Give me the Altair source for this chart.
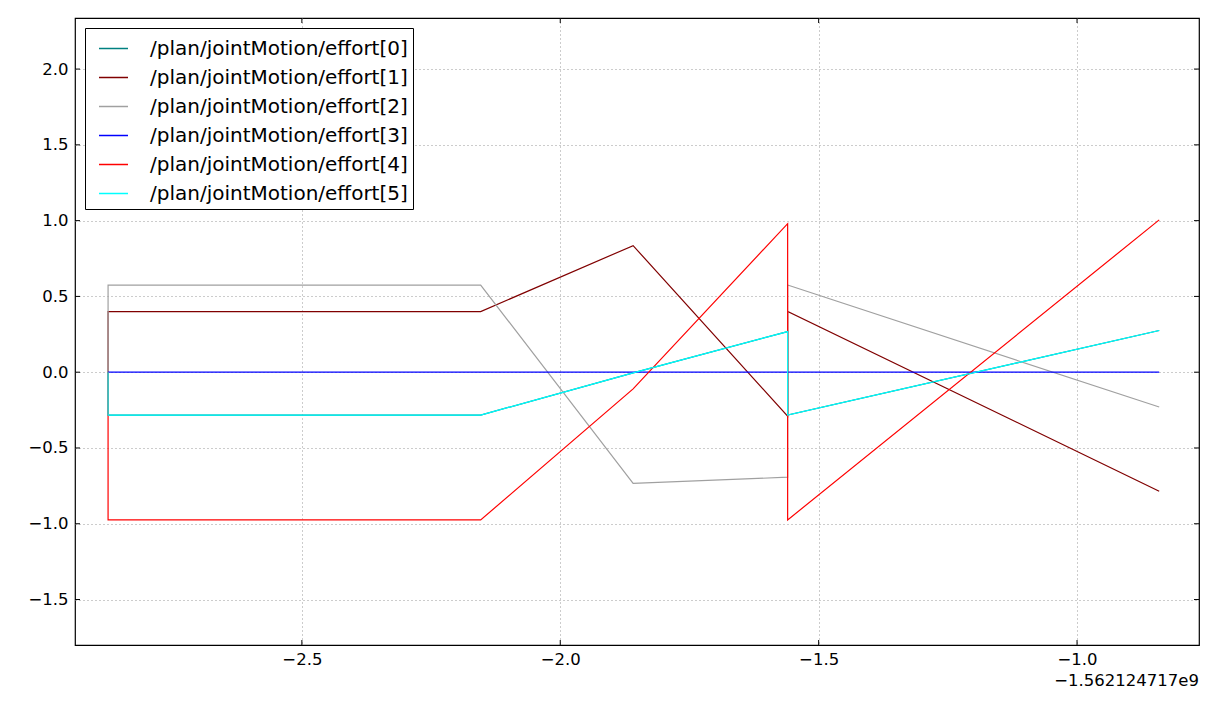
import altair as alt
import pandas as pd

# time offsets (relative to -1.562124717e9)
times = [-2.875, -2.875, -2.154, -1.859, -1.560, -1.560, -0.841]
series_names = [f"/plan/jointMotion/effort[{i}]" for i in range(6)]
effort0 = [0.0, -0.283, -0.283, -0.005, 0.268, -0.283, 0.275]
effort1 = [0.0, 0.400, 0.400, 0.835, -0.290, 0.400, -0.785]
effort2 = [0.0, 0.575, 0.575, -0.733, -0.693, 0.575, -0.230]
effort3 = [0.0, 0.0, 0.0, 0.0, 0.0, 0.0, 0.0]
effort4 = [0.0, -0.975, -0.975, -0.110, 0.980, -0.975, 1.005]
effort5 = [0.0, -0.283, -0.283, -0.005, 0.268, -0.283, 0.275]
colors = ["#008080", "#800000", "#a0a0a0", "#0000ff", "#ff0000", "#00ffff"]
x_ticks = [-2.5, -2.0, -1.5, -1.0]
y_ticks = [-1.5, -1.0, -0.5, 0.0, 0.5, 1.0, 1.5, 2.0]
x_domain = [-2.939, -0.764]
y_domain = [-1.80, 2.337]
offset_text = "\u22121.562124717e9"

rows = []
for name, vals in zip(series_names, [effort0, effort1, effort2, effort3, effort4, effort5]):
    for i, (t, v) in enumerate(zip(times, vals)):
        rows.append({"series": name, "x": t, "y": v, "idx": i})
df = pd.DataFrame(rows)

W, H = 1124, 627
FONT = "DejaVu Sans"
TICK_FS = 16.5

xscale = alt.Scale(domain=x_domain, nice=False, zero=False)
yscale = alt.Scale(domain=y_domain, nice=False, zero=False)

legend = alt.Legend(
    title=None, orient="top-left", offset=10, strokeColor="black", fillColor="white",
    padding=5, symbolOffset=8, labelFontSize=20, labelFont=FONT, labelColor="black",
    symbolType="stroke", symbolSize=841, symbolStrokeWidth=1.5,
    rowPadding=3, labelOffset=21, cornerRadius=0, labelLimit=400,
)

lines = alt.Chart(df).mark_line(strokeWidth=1.2, clip=True).encode(
    x=alt.X("x:Q", scale=xscale,
            axis=alt.Axis(values=x_ticks, format=".1f", title=None, grid=True,
                          gridDash=[1, 3], gridColor="#999", ticks=False,
                          labelPadding=6, labelFontSize=TICK_FS, labelFont=FONT,
                          labelColor="black", domain=False)),
    y=alt.Y("y:Q", scale=yscale,
            axis=alt.Axis(values=y_ticks, format=".1f", title=None, grid=True,
                          gridDash=[1, 3], gridColor="#999", ticks=False,
                          labelPadding=7, labelFontSize=TICK_FS, labelFont=FONT,
                          labelColor="black", domain=False)),
    color=alt.Color("series:N", scale=alt.Scale(domain=series_names, range=colors),
                    legend=legend),
    order="idx:Q",
)

xt = pd.DataFrame({"x": x_ticks})
yt = pd.DataFrame({"y": y_ticks})
tick_b = alt.Chart(xt).mark_rule(color="black").encode(
    x=alt.X("x:Q", scale=xscale), y=alt.value(H), y2=alt.value(H - 5))
tick_t = alt.Chart(xt).mark_rule(color="black").encode(
    x=alt.X("x:Q", scale=xscale), y=alt.value(0), y2=alt.value(5))
tick_l = alt.Chart(yt).mark_rule(color="black").encode(
    y=alt.Y("y:Q", scale=yscale), x=alt.value(0), x2=alt.value(5))
tick_r = alt.Chart(yt).mark_rule(color="black").encode(
    y=alt.Y("y:Q", scale=yscale), x=alt.value(W), x2=alt.value(W - 5))

off = alt.Chart(pd.DataFrame({"t": [offset_text]})).mark_text(
    align="right", baseline="middle", fontSize=TICK_FS, font=FONT, color="black"
).encode(text="t:N", x=alt.value(W), y=alt.value(H + 36))

chart = alt.layer(lines, tick_b, tick_t, tick_l, tick_r, off).properties(
    width=W, height=H,
    padding={"left": 75, "top": 18, "right": 18, "bottom": 60},
    autosize=alt.AutoSizeParams(type="none"),
    background="white",
).configure_view(
    stroke="black", strokeWidth=1.2
)

chart.save("out.html", embed_options={"renderer": "svg", "actions": False})
